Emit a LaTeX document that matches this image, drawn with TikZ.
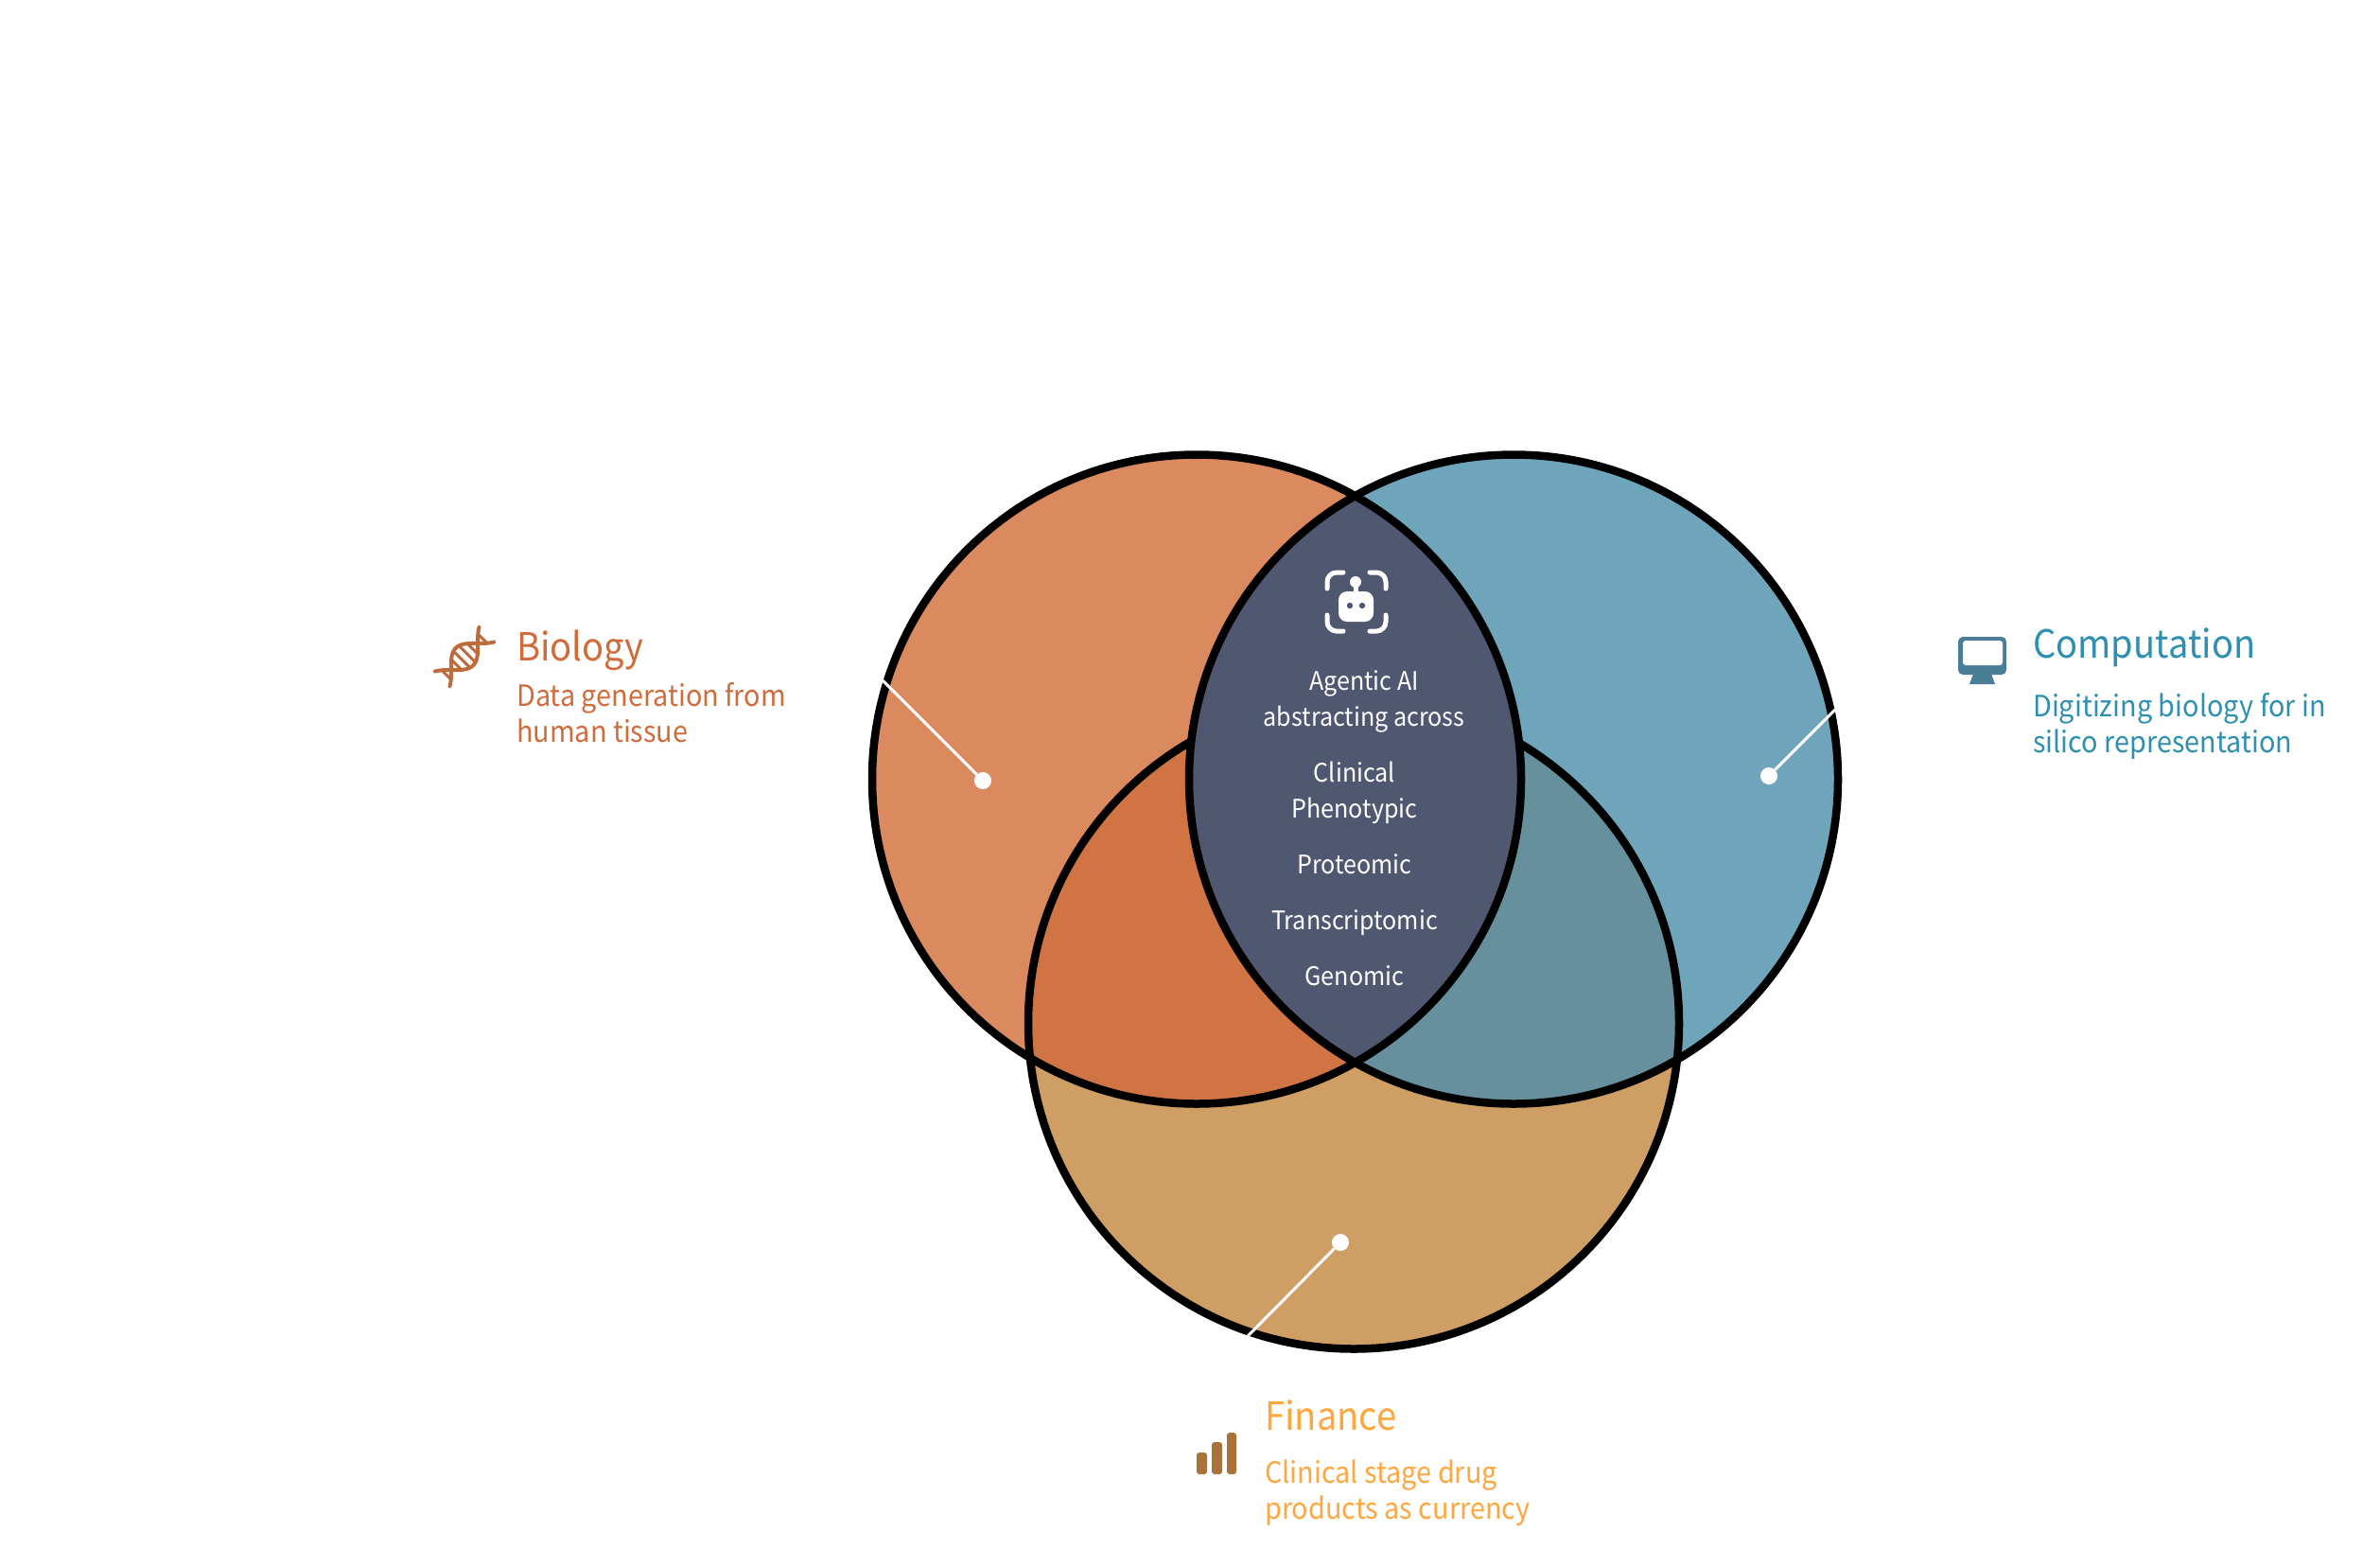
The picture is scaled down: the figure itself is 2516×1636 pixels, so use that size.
\documentclass[tikz,border=0pt]{standalone}
\usepackage{fontspec}
\setmainfont[FakeStretch=0.93]{Noto Sans CJK SC}
\usepackage{xcolor}
\usetikzlibrary{positioning, arrows.meta, shapes}

\definecolor{bio_fill}{HTML}{DB8A60}
\definecolor{comp_fill}{HTML}{6FA5BB}
\definecolor{fin_fill}{HTML}{CE9E64}
\definecolor{biofin_fill}{HTML}{CF7442}
\definecolor{compfin_fill}{HTML}{66909D}
\definecolor{lens_fill}{HTML}{505770}
\definecolor{bio_text}{HTML}{D06C3C}
\definecolor{comp_text}{HTML}{2E8FB0}
\definecolor{fin_text}{HTML}{FFA73E}
\definecolor{bio_icon}{HTML}{BD6A3D}
\definecolor{comp_icon}{HTML}{4A7D96}
\definecolor{fin_icon}{HTML}{A87238}

\begin{document}
\begin{tikzpicture}[
    x=1pt, y=-1pt,
    ring_style/.style={black, line width=8.5pt},
    dot_style/.style={circle, fill=white, inner sep=0pt, minimum size=18pt},
    leader_style/.style={white, line width=3pt},
    title_style/.style={anchor=base west, inner sep=0pt, font=\fontsize{41}{50}\selectfont},
    desc_style/.style={anchor=base west, inner sep=0pt, align=left, font=\fontsize{31}{38}\selectfont},
    core_style/.style={anchor=base, inner sep=0pt, align=center, white, font=\fontsize{27}{38}\selectfont}
]
    \useasboundingbox (0,0) rectangle (2516,1636);

    % Coordinates
    \coordinate (bio) at (1265,823.5);
    \coordinate (comp) at (1600,823.5);
    \coordinate (fin) at (1431,1081.5);
    \coordinate (bio_end) at (932,718);
    \coordinate (comp_end) at (1940,750);
    \coordinate (fin_end) at (1319,1412);

    % Circles and overlaps
    \fill[fin_fill] (fin) circle (344);
    \fill[bio_fill] (bio) circle (343);
    \fill[comp_fill] (comp) circle (343);
    \begin{scope}
        \clip (fin) circle (344);
        \fill[biofin_fill] (bio) circle (343);
        \fill[compfin_fill] (comp) circle (343);
    \end{scope}
    \draw[ring_style] (fin) circle (344);
    \begin{scope}
        \clip (bio) circle (343);
        \fill[lens_fill] (comp) circle (343);
    \end{scope}
    \draw[ring_style] (bio) circle (343);
    \draw[ring_style] (comp) circle (343);

    % Leaders
    \node[dot_style] (bio_dot) at (1039,825) {};
    \node[dot_style] (comp_dot) at (1870,820) {};
    \node[dot_style] (fin_dot) at (1417,1313) {};
    \draw[leader_style] (bio_dot) -- (bio_end);
    \draw[leader_style] (comp_dot) -- (comp_end);
    \draw[leader_style] (fin_dot) -- (fin_end);

    % Labels
    \node[title_style, bio_text] (bio_title) at (546,698) {Biology};
    \node[desc_style, bio_text] (bio_desc) at (546,784) {Data generation from\\human tissue};
    \node[title_style, comp_text] (comp_title) at (2149,695) {Computation};
    \node[desc_style, comp_text] (comp_desc) at (2149,795) {Digitizing biology for in\\silico representation};
    \node[title_style, fin_text] (fin_title) at (1337,1511) {Finance};
    \node[desc_style, fin_text] (fin_desc) at (1337,1605) {Clinical stage drug\\products as currency};

    % Text in the centre
    \node[core_style] (core_agent) at (1442,767) {Agentic AI\\abstracting across};
    \node[core_style] (core_clin) at (1432,864) {Clinical\\Phenotypic};
    \node[core_style] (core_prot) at (1432,923) {Proteomic};
    \node[core_style] (core_tran) at (1432,982) {Transcriptomic};
    \node[core_style] (core_geno) at (1432,1041) {Genomic};

    % Robot icon
    \begin{scope}[white, line width=5pt, line cap=round]
        \draw[rounded corners=10pt] (1403,622) -- (1403,605) -- (1420,605);
        \draw[rounded corners=10pt] (1448,605) -- (1465,605) -- (1465,622);
        \draw[rounded corners=10pt] (1403,650) -- (1403,667) -- (1420,667);
        \draw[rounded corners=10pt] (1448,667) -- (1465,667) -- (1465,650);
        \draw (1433,615) -- (1433,627);
    \end{scope}
    \fill[white] (1433,615) circle (6);
    \fill[white, rounded corners=9pt] (1415,625) rectangle (1452,657);
    \fill[lens_fill] (1427,640) circle (3.2);
    \fill[lens_fill] (1440,640) circle (3.2);

    % DNA icon
    \begin{scope}[shift={(491,694)}, rotate=45, bio_icon, line width=4pt, line cap=round]
        \draw[domain=-33:33, samples=41, smooth] plot (\x,{13*cos(4.5*\x)});
        \draw[domain=-33:33, samples=41, smooth] plot (\x,{-13*cos(4.5*\x)});
        \foreach \t in {-12,-4,4,12,-27,27} {
            \draw[line width=3pt] (\t,{13*cos(4.5*\t)}) -- (\t,{-13*cos(4.5*\t)});
        }
    \end{scope}

    % Monitor icon
    \fill[comp_icon, rounded corners=5pt] (2070,673) rectangle (2121,713);
    \fill[white, rounded corners=3pt] (2075,677) rectangle (2117,703);
    \fill[comp_icon] (2086,712) -- (2105,712) -- (2109,723) -- (2082,723) -- cycle;

    % Bars icon
    \fill[fin_icon, rounded corners=3pt] (1265,1535) rectangle (1276,1558);
    \fill[fin_icon, rounded corners=3pt] (1281,1524) rectangle (1292,1558);
    \fill[fin_icon, rounded corners=3pt] (1297,1514) rectangle (1307,1558);
\end{tikzpicture}
\end{document}
